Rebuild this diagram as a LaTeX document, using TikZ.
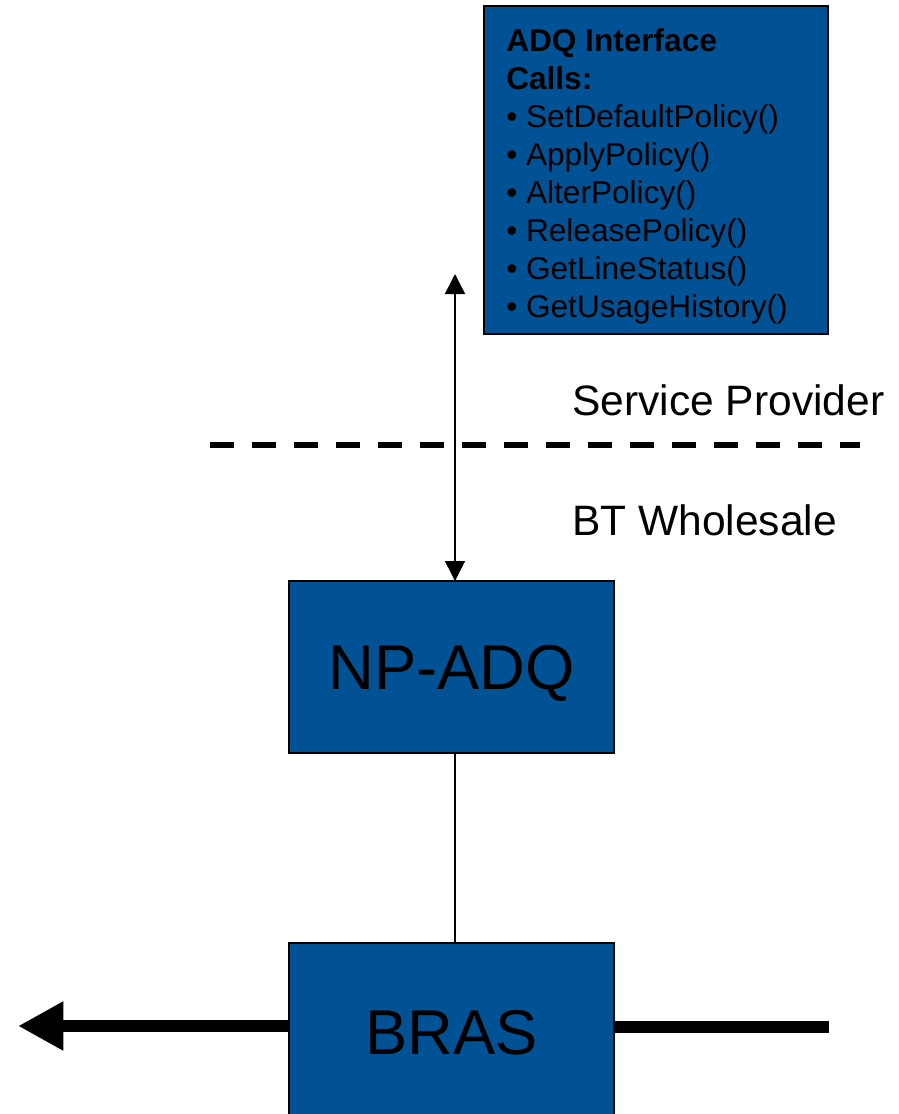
\documentclass[tikz,border=0pt]{standalone}
\usepackage{fontspec}
\setmainfont{Liberation Sans}
\usetikzlibrary{arrows.meta}
\definecolor{btblue}{RGB}{0,82,148}
\begin{document}
\begin{tikzpicture}[x=0.75pt,y=-0.75pt,
  bluebox/.style={draw=black,line width=1.1pt,fill=btblue,inner sep=0pt,outer sep=0pt},
  bigtext/.style={font=\fontsize{47.5}{57}\selectfont,text height=34pt,text depth=0pt},
  smalltext/.style={font=\fontsize{23.7}{28.5}\selectfont,inner sep=0pt,anchor=base west,align=left},
  labeltext/.style={font=\fontsize{31.9}{38}\selectfont,inner sep=0pt,anchor=base west},
  thinarrow/.style={line width=1.1pt,{Triangle[length=15pt,width=15pt]}-{Triangle[length=15pt,width=15pt]}},
  thinline/.style={line width=1.1pt},
  thickline/.style={line width=9pt},
  dashline/.style={line width=4.5pt,dash pattern=on 18pt off 13.5pt}
]
\clip (0,0) rectangle (899,1114);
\fill[white] (0,0) rectangle (899,1114);

% top box
\node[bluebox,minimum width=344*0.75pt,minimum height=328*0.75pt,anchor=north west] (adq) at (484,6) {};
\node[smalltext] (adqtext) at (506,317) {\textbf{ADQ Interface}\\\textbf{Calls:}\\%
• SetDefaultPolicy()\\• ApplyPolicy()\\• AlterPolicy()\\• ReleasePolicy()\\• GetLineStatus()\\• GetUsageHistory()};

% labels
\node[labeltext] (sp) at (572,415) {Service Provider};
\node[labeltext] (btw) at (572,535) {BT Wholesale};

% dashed boundary
\coordinate (D1) at (210,445);
\coordinate (D2) at (860,445);
\draw[dashline] (D1) -- (D2);

% NP-ADQ
\node[bluebox,bigtext,minimum width=325*0.75pt,minimum height=172*0.75pt,anchor=north west] (np) at (289,581) {NP-ADQ};

% BRAS
\node[bluebox,bigtext,minimum width=325*0.75pt,minimum height=178*0.75pt,anchor=north west] (bras) at (289,943) {BRAS};

% vertical arrow
\coordinate (top) at (455,274);
\draw[thinarrow] (top) -- (np.north -| top);
\draw[thinline] (np.south -| top) -- (bras.north -| top);

% traffic lines
\coordinate (L) at (18,1026);
\coordinate (R) at (829,1027);
\draw[thickline,-{Triangle[length=34pt,width=34.5pt]}] (bras.west |- L) -- (L);
\draw[thickline] (bras.east |- R) -- (R);
\end{tikzpicture}
\end{document}
